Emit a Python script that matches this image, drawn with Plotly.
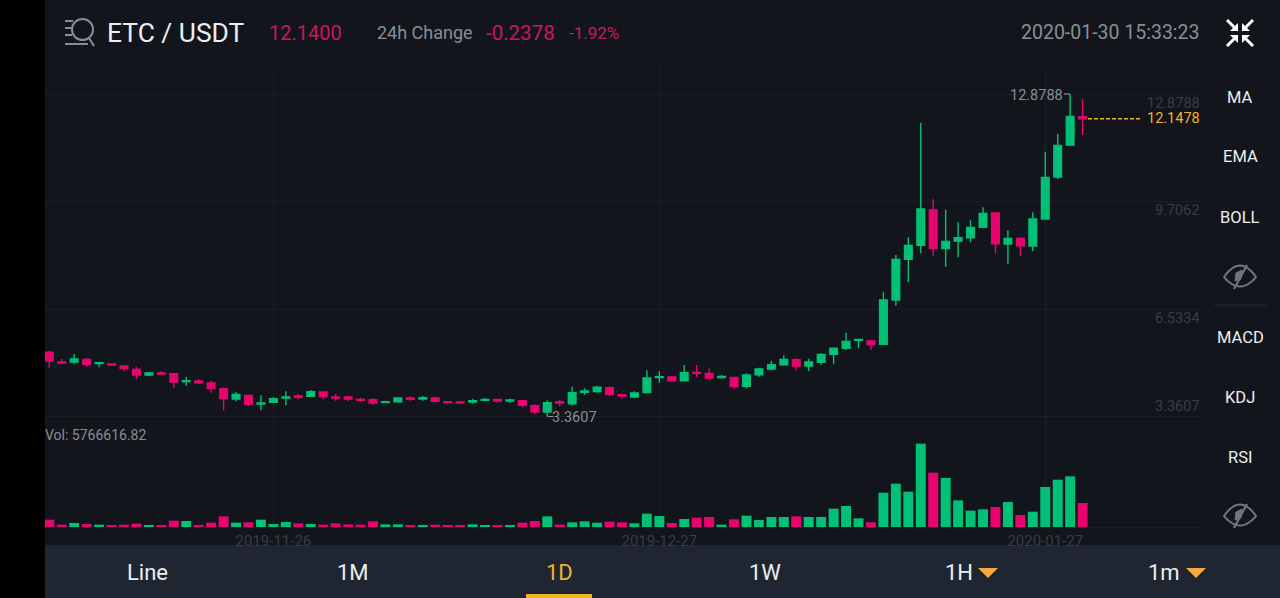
import pandas as pd
import plotly.graph_objects as go

W, H = 1280, 598

dates = pd.date_range("2019-11-08", periods=84, freq="D")

opens = [5.255,4.969,4.969,5.048,4.920,4.910,4.851,4.753,4.586,4.645,
         4.625,4.389,4.408,4.349,4.182,3.877,3.985,3.730,3.779,3.907,
         3.966,3.956,4.084,3.936,3.936,3.867,3.857,3.769,3.798,3.907,
         3.877,3.907,3.798,3.789,3.789,3.838,3.867,3.818,3.828,3.680,
         3.493,3.798,3.739,4.074,4.094,4.212,4.005,3.936,4.064,4.507,
         4.527,4.418,4.664,4.635,4.507,4.516,4.251,4.595,4.762,4.890,
         5.038,4.851,4.959,5.195,5.373,5.609,5.589,5.491,6.798,7.999,
         8.412,9.455,8.314,8.540,8.638,8.943,9.366,8.451,8.619,8.392,
         9.189,10.429,11.374,12.210]
highs = [5.294,5.058,5.206,5.078,4.959,4.930,4.861,4.832,4.674,4.694,
         4.635,4.536,4.458,4.418,4.222,4.084,3.995,3.985,3.926,4.103,
         4.025,4.143,4.103,4.025,3.966,3.916,3.897,3.828,3.926,3.956,
         3.966,3.936,3.808,3.818,3.877,3.907,3.887,3.887,3.857,3.720,
         3.838,3.848,4.241,4.192,4.271,4.251,4.025,4.103,4.723,4.694,
         4.556,4.881,4.881,4.782,4.585,4.526,4.635,4.802,5.009,5.166,
         5.077,5.068,5.225,5.402,5.835,5.658,5.619,7.025,8.127,8.648,
         12.033,9.770,9.465,9.091,9.150,9.534,9.396,8.855,8.648,9.386,
         11.177,11.708,12.8788,12.722]
lows = [4.802,4.920,4.920,4.832,4.812,4.861,4.694,4.458,4.546,4.586,
        4.202,4.271,4.310,4.064,3.543,3.808,3.670,3.543,3.759,3.690,
        3.867,3.936,3.867,3.828,3.808,3.798,3.710,3.749,3.769,3.828,
        3.828,3.769,3.749,3.730,3.739,3.808,3.769,3.759,3.631,3.424,
        3.3607,3.661,3.680,3.995,4.064,3.956,3.887,3.897,4.044,4.359,
        4.379,4.398,4.536,4.448,4.477,4.182,4.192,4.536,4.723,4.861,
        4.723,4.703,4.881,4.920,5.323,5.373,5.323,5.480,6.631,7.320,
        8.176,8.107,7.782,8.058,8.500,8.914,8.176,7.851,8.097,8.235,
        9.179,10.370,11.344,11.669]
closes = [4.999,4.940,5.058,4.900,4.950,4.881,4.773,4.586,4.645,4.615,
          4.379,4.418,4.359,4.192,3.887,4.015,3.720,3.759,3.887,3.936,
          3.926,4.094,3.946,3.907,3.877,3.838,3.759,3.798,3.907,3.867,
          3.917,3.808,3.769,3.759,3.828,3.867,3.818,3.848,3.690,3.493,
          3.769,3.759,4.064,4.113,4.222,4.015,3.966,4.054,4.497,4.536,
          4.418,4.654,4.635,4.497,4.546,4.241,4.585,4.762,4.890,5.048,
          4.851,4.969,5.195,5.373,5.579,5.638,5.481,6.799,7.999,8.412,
          9.485,8.314,8.530,8.638,8.943,9.357,8.461,8.619,8.402,9.189,
          10.419,11.364,12.220,12.1478]
# volume in millions
volumes = [1.76,0.56,0.96,0.72,0.56,0.32,0.56,0.80,0.40,0.32,
           1.52,1.44,0.48,1.04,2.56,1.04,1.12,1.76,0.72,1.20,
           0.88,0.72,0.56,0.88,0.64,0.56,1.36,0.64,0.64,0.32,
           0.32,0.56,0.40,0.32,0.64,0.40,0.40,0.32,1.04,1.44,
           2.56,0.56,1.12,1.36,1.04,1.28,1.12,0.88,3.20,2.64,
           0.96,1.92,2.24,2.40,0.56,1.84,2.72,1.68,2.40,2.40,
           2.56,2.40,2.40,4.41,5.05,2.08,1.12,8.25,10.41,8.49,
           20.03,13.06,11.77,6.41,3.92,4.25,4.81,6.01,2.88,3.68,
           9.61,11.37,12.18,5.7666]

price_ticks = [12.8788, 9.7062, 6.5334, 3.3607]
date_ticks = ["2019-11-26", "2019-12-27", "2020-01-27"]
last_price = 12.1478
max_price = 12.8788
min_price = 3.3607

GREEN = "#02c076"
PINK = "#e8046e"
BG = "#12161c"
GRID = "#1c2026"
DIM = "#383c44"
GREY = "#8a8d94"
RED_TXT = "#c9185f"
YELLOW = "#f0b429"
WHITE = "#eceef0"


def px(x):
    return x / W


def py(y):
    return 1 - y / H


vol_colors = [GREEN if c >= o else PINK for o, c in zip(opens, closes)]

fig = go.Figure()
fig.add_trace(go.Candlestick(
    x=dates, open=opens, high=highs, low=lows, close=closes,
    xaxis="x", yaxis="y",
    increasing=dict(line=dict(color=GREEN, width=1.4), fillcolor=GREEN),
    decreasing=dict(line=dict(color=PINK, width=1.4), fillcolor=PINK),
    whiskerwidth=0, hoverinfo="skip", showlegend=False,
))
fig.add_trace(go.Bar(
    x=dates, y=volumes, marker=dict(color=vol_colors, line=dict(width=0)),
    xaxis="x", yaxis="y2", width=0.8 * 86400000, hoverinfo="skip", showlegend=False,
))

# header / right panel / bottom bar texts
notes = []


def txt(x, y, s, size, color, anchor="left", **kw):
    notes.append(dict(x=px(x), y=py(y), xref="paper", yref="paper", text=s, showarrow=False,
                      xanchor=anchor, yanchor="middle", align=anchor,
                      font=dict(size=size, color=color), **kw))


txt(105, 33, "ETC / USDT", 26.4, WHITE)
txt(267, 33, "12.1400", 20, RED_TXT)
txt(375, 33, "24h Change", 18, GREY)
txt(484, 33, "-0.2378", 20.5, RED_TXT)
txt(567, 33, "-1.92%", 17, RED_TXT)
txt(1202, 33, "2020-01-30 15:33:23", 19.5, GREY, "right")
txt(43, 435, "Vol: 5766616.82", 14, GREY)

for label, y in zip(["MA", "EMA", "BOLL", "MACD", "KDJ", "RSI"], [97, 157, 217, 337, 397, 457]):
    txt(1240, y, label, 16.5, WHITE, "center")

for label, x, color in zip(["Line", "1M", "1D", "1W", "1H", "1m"],
                           [147, 353, 559, 765, 959, 1164],
                           [WHITE, WHITE, YELLOW, WHITE, WHITE, WHITE]):
    txt(x, 572, label, 22, color, "center")

# price axis labels sit under their grid line, except the lowest
for v in price_ticks:
    notes.append(dict(x=px(1202), y=v, xref="paper", yref="y", text=f"{v:.4f}", showarrow=False,
                      xanchor="right", yanchor="middle", yshift=10 if v == min_price else -9,
                      font=dict(size=14.5, color=DIM)))
notes.append(dict(x=px(1202), y=last_price, xref="paper", yref="y", text=f"{last_price:.4f}", showarrow=False,
                  xanchor="right", yanchor="middle", font=dict(size=14.5, color=YELLOW)))
notes.append(dict(x=dates[82], y=max_price, xref="x", yref="y", text=f"{max_price:.4f}", showarrow=False,
                  xanchor="right", yanchor="middle", xshift=-5, yshift=-1, font=dict(size=14.5, color=GREY)))
notes.append(dict(x=dates[40], y=min_price, xref="x", yref="y", text=f"{min_price:.4f}", showarrow=False,
                  xanchor="left", yanchor="middle", xshift=3, yshift=-1, font=dict(size=14.5, color=GREY)))

shapes = [
    # bottom bar and tab underline
    dict(type="rect", xref="paper", yref="paper", x0=px(45), x1=1, y0=0, y1=py(545),
         fillcolor="#1f2632", line=dict(width=0), layer="below"),
    dict(type="rect", xref="paper", yref="paper", x0=px(526), x1=px(592), y0=0, y1=py(594),
         fillcolor=YELLOW, line=dict(width=0)),
    # black strip on the left
    dict(type="rect", xref="paper", yref="paper", x0=0, x1=px(45), y0=0, y1=1,
         fillcolor="#000000", line=dict(width=0)),
    # panel separator
    dict(type="line", xref="paper", yref="paper", x0=px(1214), x1=px(1267), y0=py(305), y1=py(305),
         line=dict(color="#23272e", width=1)),
    # last price dashes
    dict(type="line", xref="paper", yref="y", x0=px(1088), x1=px(1140), y0=last_price, y1=last_price,
         line=dict(color=YELLOW, width=1.5, dash="4px,2px")),
    # little leaders at the high and low labels
    dict(type="line", xref="x", yref="y", x0=dates[82] - pd.Timedelta(days=0.5), x1=dates[82],
         y0=max_price, y1=max_price, line=dict(color=GREY, width=1.2)),
    dict(type="line", xref="x", yref="y", x0=dates[40], x1=dates[40] + pd.Timedelta(days=0.5),
         y0=min_price, y1=min_price, line=dict(color=GREY, width=1.2)),
]


def path(d, color, width=0, fill=None):
    shapes.append(dict(type="path", xref="paper", yref="paper", path=d,
                       line=dict(color=color, width=width), fillcolor=fill))


def ppath(points, close=False):
    s = "M " + " L ".join(f"{px(x):.5f} {py(y):.5f}" for x, y in points)
    return s + (" Z" if close else "")


def eye(cx, cy):
    # almond outline, pupil and slash
    pts = []
    for t in range(0, 17):
        u = t / 16
        pts.append((cx - 16 + 32 * u, cy - 12 * 4 * u * (1 - u) * 0.95))
    for t in range(0, 17):
        u = t / 16
        pts.append((cx + 16 - 32 * u, cy + 10 * 4 * u * (1 - u) * 0.95))
    path(ppath(pts, True), "#70747b", 2)
    path(ppath([(cx - 5, cy + 4), (cx - 4, cy - 4), (cx + 2, cy - 7), (cx + 1, cy + 2)], True), "#70747b", 1, "#70747b")
    path(ppath([(cx - 6, cy + 12), (cx + 7, cy - 12)]), "#70747b", 2.2)


eye(1240, 277)
eye(1240, 516)

# fullscreen collapse icon
for sx, sy in [(-1, -1), (1, -1), (-1, 1), (1, 1)]:
    cx, cy = 1240, 33
    path(ppath([(cx + sx * 13, cy + sy * 13), (cx + sx * 5, cy + sy * 5)]), "#ffffff", 3)
    path(ppath([(cx + sx * 2, cy + sy * 2), (cx + sx * 10, cy + sy * 2), (cx + sx * 2, cy + sy * 10)], True),
         "#ffffff", 0, "#ffffff")

# search list icon
for x0, x1, y in [(65, 73, 21), (65, 72, 28), (65, 72, 35), (65, 88, 44)]:
    path(ppath([(x0, y), (x1, y)]), GREY, 2)
shapes.append(dict(type="circle", xref="paper", yref="paper", x0=px(72), x1=px(93), y0=py(19), y1=py(40),
                   line=dict(color=GREY, width=2)))
path(ppath([(89, 38), (94, 46)]), GREY, 2)

# dropdown triangles
for x in (988, 1196):
    path(ppath([(x - 10, 568), (x + 10, 568), (x, 578)], True), "#f5a93a", 0, "#f5a93a")

fig.update_layout(
    width=W, height=H,
    margin=dict(l=0, r=0, t=0, b=0),
    paper_bgcolor=BG, plot_bgcolor=BG,
    font=dict(family="Roboto", color=GREY),
    boxgap=0.12, bargap=0.2,
    showlegend=False,
    annotations=notes,
    shapes=shapes,
    xaxis=dict(
        domain=[px(45), px(1200)], anchor="y2",
        range=[dates[0] - pd.Timedelta(days=0.345), dates[0] + pd.Timedelta(days=92.43)],
        rangeslider=dict(visible=False),
        tickvals=date_ticks, ticktext=date_ticks, tickangle=0,
        tickfont=dict(size=15, color=DIM), ticks="", ticklabelstandoff=0,
        showgrid=True, gridcolor=GRID, gridwidth=1,
        showline=True, linecolor=GRID, linewidth=1, zeroline=False,
    ),
    yaxis=dict(
        domain=[py(430), py(68)], range=[2.9623, 13.6464],
        tickvals=price_ticks, showticklabels=False, ticks="",
        showgrid=True, gridcolor=GRID, gridwidth=1, zeroline=False, showline=False,
    ),
    yaxis2=dict(
        domain=[py(527), py(430)], range=[0, 23.31],
        showticklabels=False, ticks="", showgrid=False, zeroline=False, showline=False,
    ),
)

# default page margin would push the figure 8px off
fig.write_html("out.html", config=dict(displayModeBar=False),
               post_script="document.body.style.margin='0';")
